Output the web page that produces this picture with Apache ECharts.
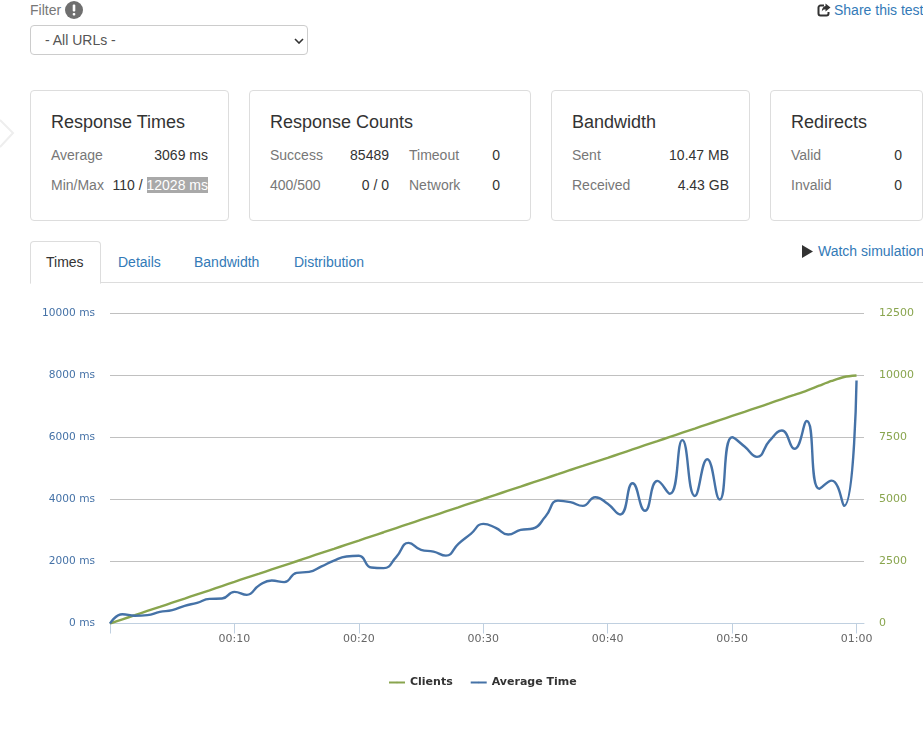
<!DOCTYPE html>
<html>
<head>
<meta charset="utf-8">
<title>Load test</title>
<script src="https://cdn.jsdelivr.net/npm/echarts@6/dist/echarts.min.js"></script>
<style>
  html, body { margin: 0; padding: 0; background: #fff; overflow: hidden; width: 923px; height: 733px; }
  body { font-family: "Liberation Sans", Arial, sans-serif; font-size: 14px; color: #333; position: relative; }
  .abs { position: absolute; white-space: nowrap; line-height: 20px; }
  a, .link { color: #337ab7; }
  .muted { color: #777; }
  .card { position: absolute; top: 90px; height: 129px; border: 1px solid #ddd; border-radius: 4px; box-sizing: content-box; background: #fff; }
  .card h3 { position: absolute; margin: 0; top: 21px; font-size: 18px; font-weight: 400; line-height: 20px; white-space: nowrap; }
  .sel { background: #a9a9a9; color: #fff; }
  #filter { position: absolute; left: 30px; top: 25px; width: 278px; height: 30px; padding: 0 14px; border: 1px solid #ccc; border-radius: 4px; color: #555; font: 14px "Liberation Sans", Arial, sans-serif; appearance: none; -webkit-appearance: none; background: #fff url("data:image/svg+xml,%3Csvg xmlns='http://www.w3.org/2000/svg' width='10' height='6'%3E%3Cpath d='M1 1L5 5L9 1' fill='none' stroke='%23333' stroke-width='1.6'/%3E%3C/svg%3E") no-repeat 263px 12px; }
  #tabline { position: absolute; left: 30px; top: 282px; width: 893px; height: 1px; background: #ddd; }
  #tabActive { position: absolute; left: 30px; top: 241px; width: 69px; height: 41px; border: 1px solid #ddd; border-bottom: 1px solid #fff; border-radius: 4px 4px 0 0; background: #fff; }
  #main { position: absolute; left: 0; top: 290px; width: 923px; height: 443px; }
</style>
</head>
<body>
<div id="page"></div>
<div id="main"></div>
<script>
// seconds of the run
const seconds = [0,1,2,3,4,5,6,7,8,9,10,11,12,13,14,15,16,17,18,19,20,21,22,23,24,25,26,27,28,29,30,31,32,33,34,35,36,37,38,39,40,41,42,43,44,45,46,47,48,49,50,51,52,53,54,55,56,57,58,59,60]
const clients = [0,170,335,505,670,840,1005,1175,1340,1510,1680,1850,2010,2180,2345,2510,2680,2845,3010,3180,3345,3515,3680,3850,4015,4185,4350,4520,4685,4855,5020,5190,5355,5520,5690,5855,6020,6190,6355,6520,6680,6850,7020,7190,7355,7525,7695,7860,8030,8200,8370,8535,8705,8875,9050,9220,9395,9590,9780,9940,10000]
const avgTime = [0,300,250,270,375,430,570,665,795,805,1020,925,1235,1385,1335,1635,1665,1840,2030,2160,2185,1805,1785,2140,2600,2375,2320,2190,2570,2890,3215,3085,2870,3020,3065,3450,3965,3915,3795,4075,3860,3515,4525,3635,4600,4185,5915,4115,5300,4000,6010,5710,5375,5890,6225,5635,6530,4345,4610,3795,7840]

const timeTicks = [0,10,20,30,40,50,60]
const timeLabels = [10,20,30,40,50,60]

const GREEN = "#89A54E"
const BLUE = "#4572A7"

const page = document.getElementById("page")

function abs(text, left, top, cls, right) {
    const pos = right !== undefined ? `right:${923 - right}px` : `left:${left}px`
    return `<div class="abs ${cls || ""}" style="${pos};top:${top}px">${text}</div>`
}

// stat cards: [left, width, title]
const cards = [
    [30, 197, "Response Times"],
    [249, 280, "Response Counts"],
    [551, 197, "Bandwidth"],
    [770, 151, "Redirects"]
]
const cardLabels = [
    ["Average", 51, 145], ["Min/Max", 51, 175],
    ["Success", 270, 145], ["400/500", 270, 175], ["Timeout", 409, 145], ["Network", 409, 175],
    ["Sent", 572, 145], ["Received", 572, 175],
    ["Valid", 791, 145], ["Invalid", 791, 175]
]
const cardValues = [
    ["3069 ms", 208, 145], ['110 / <span class="sel">12028 ms</span>', 208, 175],
    ["85489", 389, 145], ["0 / 0", 389, 175], ["0", 500, 145], ["0", 500, 175],
    ["10.47 MB", 729, 145], ["4.43 GB", 729, 175],
    ["0", 902, 145], ["0", 902, 175]
]
const tabs = [["Details", 118], ["Bandwidth", 194], ["Distribution", 294]]

let html = ""
html += abs("Filter", 30, 0, "muted")
html += `<svg style="position:absolute;left:65px;top:1px" width="18" height="18"><circle cx="9" cy="9" r="9" fill="#6f6f6f"/><rect x="7.7" y="3.6" width="2.6" height="7" rx="1" fill="#fff"/><rect x="7.7" y="12" width="2.6" height="2.6" rx="1" fill="#fff"/></svg>`
html += `<select id="filter"><option>- All URLs -</option></select>`
html += `<svg style="position:absolute;left:817px;top:3px" width="14" height="14"><path d="M7 2.5H3.5A2 2 0 0 0 1.5 4.5V10.5A2 2 0 0 0 3.5 12.5H9.5A2 2 0 0 0 11.5 10.5V9" fill="none" stroke="#333" stroke-width="2"/><path d="M8.5 0.5L13.5 4.5L8.5 8.5V6.2C6.8 6.2 5.6 6.9 4.8 8.6C4.8 5.4 6.4 3.2 8.5 3Z" fill="#333"/></svg>`
html += abs("Share this test", 834, 0, "link")
html += `<svg style="position:absolute;left:0;top:118px" width="16" height="32"><path d="M0 2L13 15L0 29" fill="none" stroke="#eeeeee" stroke-width="2"/></svg>`
cards.forEach(([left, width, title]) => {
    html += `<div class="card" style="left:${left}px;width:${width}px"><h3 style="left:20px">${title}</h3></div>`
})
cardLabels.forEach(([t, x, y]) => { html += abs(t, x, y, "muted") })
cardValues.forEach(([t, x, y]) => { html += abs(t, 0, y, "", x) })
html += `<div id="tabline"></div><div id="tabActive"></div>`
html += abs("Times", 46, 252, "")
tabs.forEach(([t, x]) => { html += abs(t, x, 252, "link") })
html += `<svg style="position:absolute;left:802px;top:245px" width="11" height="13"><path d="M0 0L11 6.5L0 13Z" fill="#333"/></svg>`
html += abs("Watch simulation", 818, 241, "link")
page.innerHTML = html

const chart = echarts.init(document.getElementById("main"))

const option = {
    animation: false,
    grid: { left: 110, right: 59, top: 23.5, height: 310 },
    legend: {
        left: 383,
        top: 382,
        itemWidth: 16,
        itemHeight: 2,
        itemGap: 17,
        textStyle: { fontFamily: "DejaVu Sans", fontSize: 11, fontWeight: "bold", color: "#333" },
        data: ["Clients", "Average Time"]
    },
    xAxis: {
        type: "value",
        min: 0,
        max: 60.6,
        interval: 10,
        splitLine: { show: false },
        axisLine: { show: true, lineStyle: { color: "#C0D0E0", width: 1 } },
        axisTick: { show: true, length: 10, lineStyle: { color: "#C0D0E0" }, customValues: timeTicks },
        axisLabel: {
            customValues: timeLabels,
            color: "#666",
            fontFamily: "DejaVu Sans",
            fontSize: 11,
            margin: 10,
            formatter: v => {
                const m = Math.floor(v / 60)
                const s = v % 60
                return String(m).padStart(2, "0") + ":" + String(s).padStart(2, "0")
            }
        }
    },
    yAxis: [
        {
            type: "value",
            min: 0,
            max: 10000,
            interval: 2000,
            axisLine: { show: false },
            axisTick: { show: false },
            splitLine: { lineStyle: { color: "#C0C0C0", width: 1 } },
            axisLabel: { color: BLUE, fontFamily: "DejaVu Sans", fontSize: 10.6, margin: 15, formatter: v => v + " ms" }
        },
        {
            type: "value",
            min: 0,
            max: 12500,
            interval: 2500,
            axisLine: { show: false },
            axisTick: { show: false },
            splitLine: { show: false },
            axisLabel: { color: GREEN, fontFamily: "DejaVu Sans", fontSize: 11, margin: 15, formatter: v => String(v) }
        }
    ],
    series: [
        {
            name: "Clients",
            type: "line",
            yAxisIndex: 1,
            smooth: 0.3,
            data: seconds.map((s, i) => [s, clients[i]]),
            showSymbol: false,
            symbol: "none",
            lineStyle: { color: GREEN, width: 2.4 },
            itemStyle: { color: GREEN }
        },
        {
            name: "Average Time",
            type: "line",
            yAxisIndex: 0,
            smooth: 0.5,
            data: seconds.map((s, i) => [s, avgTime[i]]),
            showSymbol: false,
            symbol: "none",
            lineStyle: { color: BLUE, width: 2.4 },
            itemStyle: { color: BLUE }
        }
    ]
}

chart.setOption(option)
</script>
</body>
</html>
